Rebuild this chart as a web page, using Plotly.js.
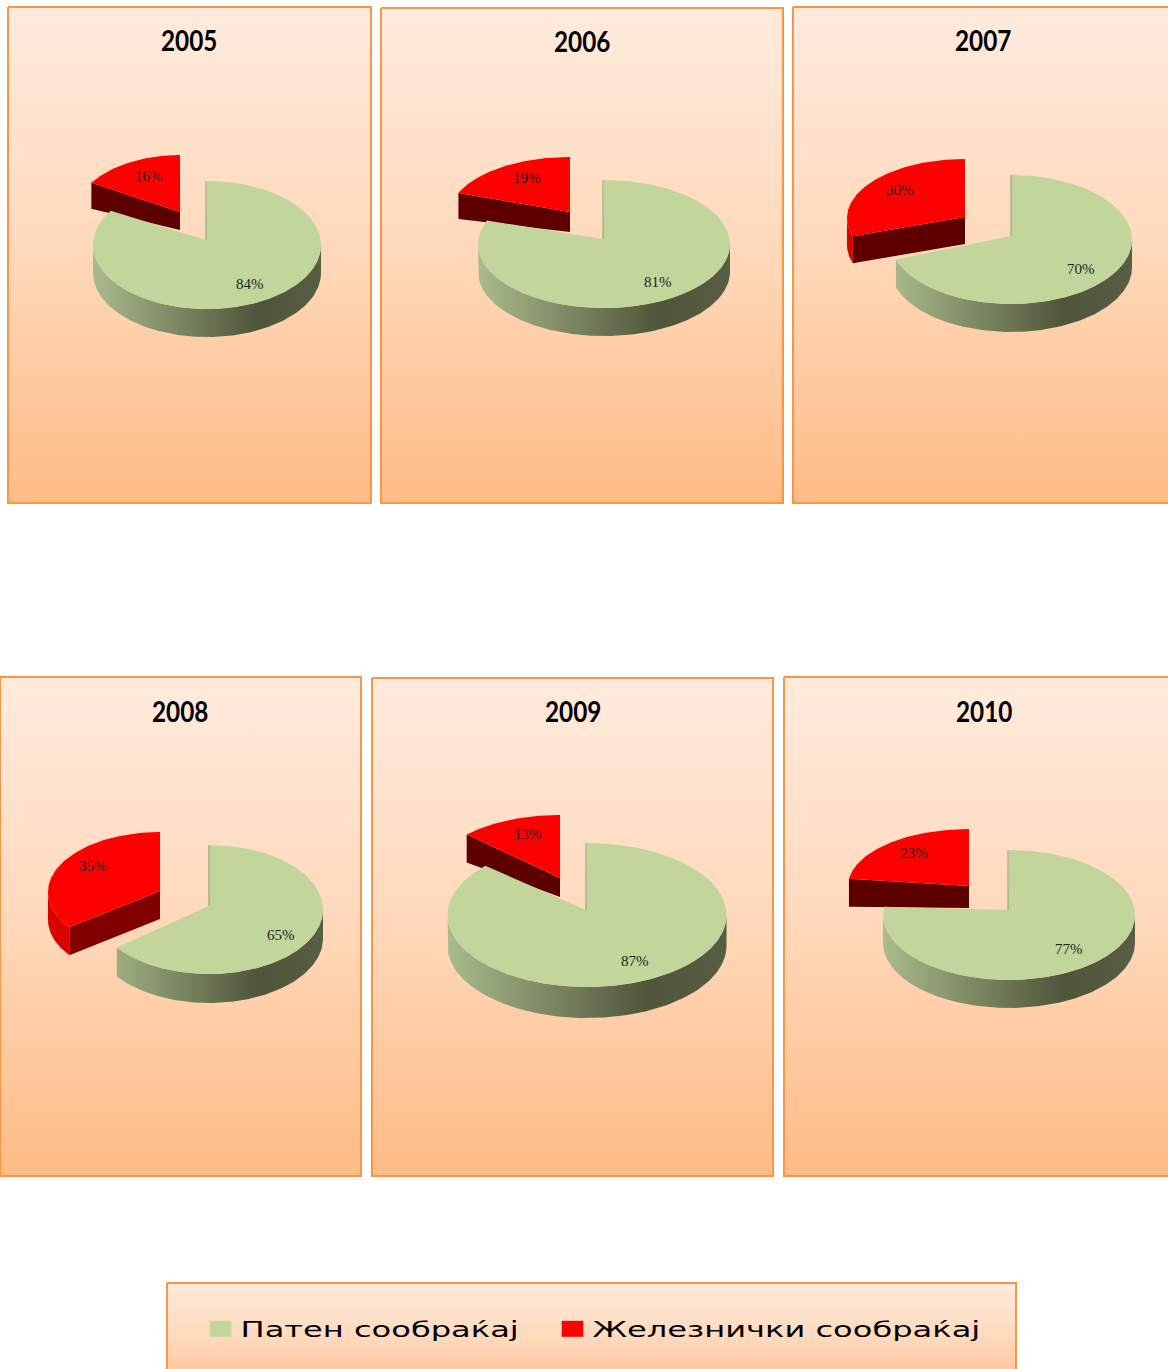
<!DOCTYPE html>
<html>
<head>
<meta charset="utf-8">
<script src="https://cdn.plot.ly/plotly-3.0.1.min.js"></script>
<style>
html,body{margin:0;padding:0;background:#fff;overflow:hidden}
#chart{width:1168px;height:1369px}
.legendtext{transform-box:fill-box;transform-origin:left center;transform:scaleX(1.46)}
.legend .scrollbox{clip-path:none !important}
.legendpoints path.scatterpts{transform:translate(20px,0) scaleX(1.35)}
.annotation-text[style*="Lato"]{transform-box:fill-box;transform-origin:center;transform:scaleX(.9) scaleY(1.04)}
</style>
</head>
<body>
<div id="chart"></div>
<script>
// ---- data ----
const years = ['2005','2006','2007','2008','2009','2010'];
const roadShare = [84,81,70,65,87,77];
const railShare = [16,19,30,35,13,23];
const roadName = 'Патен сообраќај';
const railName = 'Железнички сообраќај';

// ---- layout of the page (pixels) ----
const W = 1168, H = 1369;
const panels = [[8,7,371,503],[381,8,783,503],[793,7,1185,503],[0,677,361,1176],[372,678,773,1176],[784,677,1185,1176]];
const titlePos = [[189,40],[582,41],[983,40],[180,711],[573,711],[984,711]];
// road pie: centre x, apex x, apex y, top, bottom, rx, depth
const roadGeom = [[207,206,240,181,309,114,28],[604,603,239,180,308,126,28],[1011,1011,236,175,304,121,28],
                  [209,209,906,845,974,114,29],[587,586,910,843,987,139.5,31],[1009,1008,910,850,980,126,28]];
// rail pie: apex x, apex y, centre y, rx, ry, depth at apex, depth at corner, cut-face colour
const railGeom = [[180,212,215,105,60,18,26,'#5c0000'],[570,212,214,120,57,20,26,'#5c0000'],[965,217,218,118,59,27,27,'#5c0000'],
                  [160,891,892,112,60,28,28,'#800000'],[560,878,877,128,62,19,28,'#5c0000'],[969,886,886,121,57,22,28,'#5c0000']];
const roadLabelPos = [[250,284],[658,282],[1081,269],[281,935],[635,961],[1069,949]];
const railLabelPos = [[149,176],[527,178],[900,190],[93,866],[528,834],[914,853]];
const legendBox = [167,1283,1016,1400];

const ROAD='#C2D69B', RAIL='#FF0000', BORDER='#F79646';
const panelScale=[[0,'#FEBB85'],[0.5,'#FFD8BA'],[1,'#FFEBDD']];
const wallScale=[[0,'#ABBB8C'],[0.72,'#4E553A'],[1,'#585E43']];

const traces=[], annotations=[], layout={};

function poly(xs,ys,ax,extra){
  return Object.assign({type:'scatter',mode:'lines',x:xs,y:ys,xaxis:ax.x,yaxis:ax.y,
    fill:'toself',line:{width:0},hoverinfo:'skip',showlegend:false},extra);
}
function addAxes(i,box){
  const n=i+1, k=n===1?'':String(n);
  const x0=Math.max(0,box[0]-2), x1=Math.min(W,box[2]+2), y0=Math.max(0,box[1]-2), y1=Math.min(H,box[3]+2);
  layout['xaxis'+k]={domain:[x0/W,x1/W],range:[x0,x1],visible:false,fixedrange:true,anchor:'y'+k};
  layout['yaxis'+k]={domain:[1-y1/H,1-y0/H],range:[y1,y0],visible:false,fixedrange:true,anchor:'x'+k};
  return {x:'x'+k,y:'y'+k};
}
function addPanel(ax,b){
  traces.push(poly([b[0],b[2],b[2],b[0],b[0]],[b[1],b[1],b[3],b[3],b[1]],ax,{
    line:{width:2,color:BORDER},fillgradient:{type:'vertical',colorscale:panelScale}}));
}
function arc(cx,cy,rx,ry,a0,a1,dy){
  const xs=[],ys=[],n=Math.max(4,Math.ceil(Math.abs(a1-a0)*60));
  for(let i=0;i<=n;i++){const a=a0+(a1-a0)*i/n;xs.push(cx+rx*Math.sin(a));ys.push(cy-ry*Math.cos(a)+dy);}
  return [xs,ys];
}

years.forEach((yr,i)=>{
  const ax=addAxes(i,panels[i]);
  addPanel(ax,panels[i]);

  // rail slice, pulled out and sweeping back from 12 o'clock
  const [ax_,ay,rcy,rrx,rry,rd,rdc,cut]=railGeom[i];
  const railEnd=-railShare[i]/100*2*Math.PI;
  const rTop=arc(ax_,rcy,rrx,rry,0,railEnd,0);
  const cx0=rTop[0][rTop[0].length-1], cy0=rTop[1][rTop[1].length-1];
  if(railEnd<-Math.PI/2){
    const a=arc(ax_,rcy,rrx,rry,-Math.PI/2,railEnd,0), b=arc(ax_,rcy,rrx,rry,railEnd,-Math.PI/2,rdc);
    traces.push(poly(a[0].concat(b[0]),a[1].concat(b[1]),ax,{fillcolor:'#D90000'}));
  }
  traces.push(poly([ax_,cx0,cx0,ax_],[ay,cy0,cy0+rdc,ay+rd],ax,{fillcolor:cut}));
  traces.push(poly([ax_].concat(rTop[0]),[ay].concat(rTop[1]),ax,{fillcolor:RAIL}));

  // road slice, clockwise from 12 o'clock
  const [cx,apx,apy,top,bot,rx,d]=roadGeom[i];
  const cy=(top+bot)/2, ry=(bot-top)/2;
  const roadEnd=roadShare[i]/100*2*Math.PI;
  const wEnd=Math.min(roadEnd,1.5*Math.PI);
  const w1=arc(cx,cy,rx,ry,Math.PI/2,wEnd,0), w2=arc(cx,cy,rx,ry,wEnd,Math.PI/2,d);
  traces.push(poly(w1[0].concat(w2[0]),w1[1].concat(w2[1]),ax,{
    fillgradient:{type:'horizontal',start:cx-rx,stop:cx+rx,colorscale:wallScale}}));
  const rd2=arc(cx,cy,rx,ry,0,roadEnd,0);
  traces.push(poly([apx].concat(rd2[0]),[apy].concat(rd2[1]),ax,{fillcolor:ROAD}));
  traces.push({type:'scatter',mode:'lines',x:[apx,apx],y:[apy,top],xaxis:ax.x,yaxis:ax.y,
    line:{width:1,color:'#8E9A72'},hoverinfo:'skip',showlegend:false});

  annotations.push({xref:ax.x,yref:ax.y,x:titlePos[i][0],y:titlePos[i][1],text:yr,showarrow:false,
    font:{family:'Lato, sans-serif',size:27,color:'#000',weight:700}});
  annotations.push({xref:ax.x,yref:ax.y,x:roadLabelPos[i][0],y:roadLabelPos[i][1],text:roadShare[i]+'%',showarrow:false,
    font:{family:'"Liberation Serif", serif',size:15,color:'#222'}});
  annotations.push({xref:ax.x,yref:ax.y,x:railLabelPos[i][0],y:railLabelPos[i][1],text:railShare[i]+'%',showarrow:false,
    font:{family:'"Liberation Serif", serif',size:15,color:'#222'}});
});

// legend band
const lax=addAxes(6,legendBox);
addPanel(lax,legendBox);
traces.push({type:'scatter',mode:'markers',x:[null],y:[null],xaxis:lax.x,yaxis:lax.y,name:roadName,
  marker:{symbol:'square',size:16,color:ROAD},hoverinfo:'skip'});
traces.push({type:'scatter',mode:'markers',x:[null],y:[null],xaxis:lax.x,yaxis:lax.y,name:railName,
  marker:{symbol:'square',size:16,color:RAIL},hoverinfo:'skip'});

Object.assign(layout,{
  width:W,height:H,margin:{l:0,r:0,t:0,b:0,pad:0},paper_bgcolor:'#fff',plot_bgcolor:'rgba(0,0,0,0)',
  annotations:annotations,showlegend:true,
  legend:{orientation:'h',x:200.5/W,xanchor:'left',y:1-1329/H,yanchor:'middle',bgcolor:'rgba(0,0,0,0)',
    entrywidth:307,entrywidthmode:'pixels',itemclick:false,itemdoubleclick:false,
    font:{family:'"DejaVu Sans", sans-serif',size:22,color:'#000'}}
});
Plotly.newPlot('chart',traces,layout,{staticPlot:true,displayModeBar:false});
</script>
</body>
</html>
